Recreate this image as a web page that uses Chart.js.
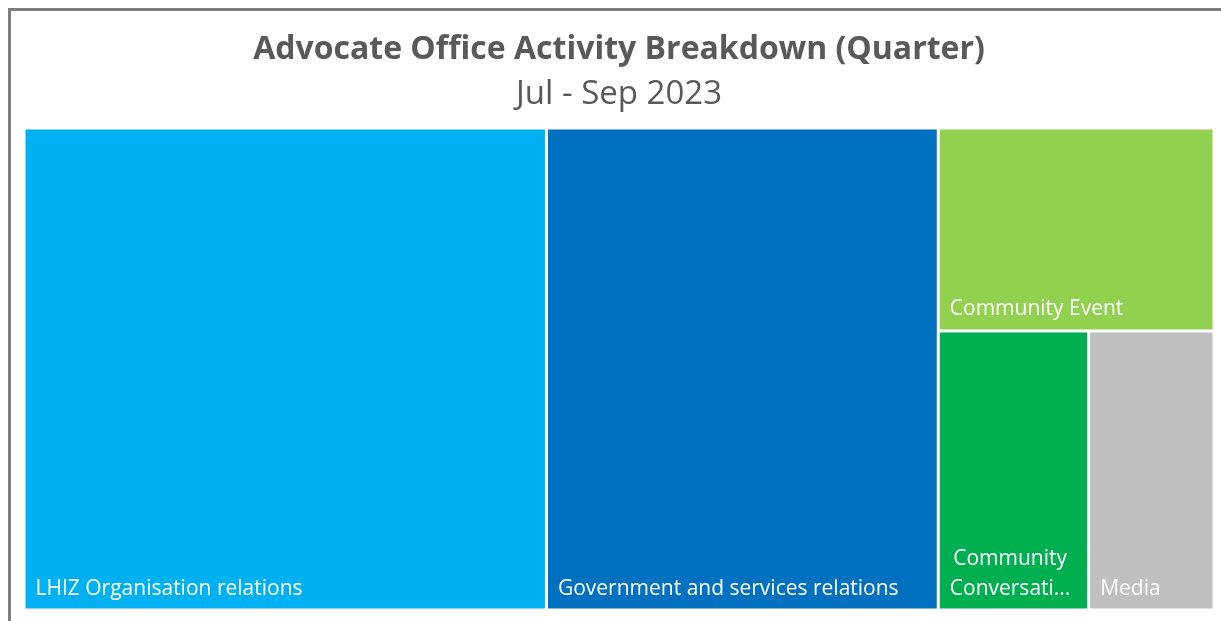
<!DOCTYPE html>
<html>
<head>
<meta charset="utf-8">
<script src="https://cdn.jsdelivr.net/npm/chart.js@4/dist/chart.umd.min.js"></script>
<style>
  html, body { margin: 0; padding: 0; background: #fff; }
  #frame {
    position: absolute; left: 8px; top: 8px;
    width: 1210px; height: 610px;
    border-left: 3px solid #7f7f7f; border-top: 3px solid #7f7f7f;
  }
</style>
</head>
<body>
<div id="frame"><canvas id="chart"></canvas></div>
<script>
// treemap data (Jul - Sep 2023)
const categories = [
  'LHIZ Organisation relations',
  'Government and services relations',
  'Community Event',
  'Community Conversation',
  'Media'
];
const activityCounts = [36, 27, 8, 6, 5];
const palette = ['#00B0F0', '#0070C0', '#92D050', '#00B050', '#BFBFBF'];

// squarified layout in pixel-proportional units, returned as 0..1 values
function worst(row, side) {
  const s = row.reduce((a, b) => a + b, 0);
  const mx = Math.max(...row), mn = Math.min(...row);
  return Math.max(side * side * mx / (s * s), (s * s) / (side * side * mn));
}

function squarify(values, W, H) {
  const total = values.reduce((a, b) => a + b, 0);
  const areas = values.map(v => v * W * H / total);
  const rects = [];
  let x = 0, y = 0, w = W, h = H, i = 0;
  while (i < areas.length) {
    const side = Math.min(w, h);
    let row = [areas[i]], j = i + 1;
    while (j < areas.length) {
      const cand = row.concat(areas[j]);
      if (worst(cand, side) <= worst(row, side) * 1.25) { row = cand; j++; } else break;
    }
    const rowSum = row.reduce((a, b) => a + b, 0);
    if (w > h) {
      const cw = rowSum / h;
      let yy = y;
      row.forEach(a => { const rh = a / cw; rects.push({ x0: x, y0: yy, x1: x + cw, y1: yy + rh }); yy += rh; });
      x += cw; w -= cw;
    } else {
      const rh = rowSum / w;
      let xx = x;
      row.forEach(a => { const rw = a / rh; rects.push({ x0: xx, y0: y, x1: xx + rw, y1: y + rh }); xx += rw; });
      y += rh; h -= rh;
    }
    i = j;
  }
  return rects.map(r => ({ x0: r.x0 / W, y0: r.y0 / H, x1: r.x1 / W, y1: r.y1 / H }));
}

function fitLines(ctx, text, maxW, maxLines) {
  const words = text.split(' ');
  const lines = [];
  let cur = '';
  words.forEach(wd => {
    const test = cur ? cur + ' ' + wd : wd;
    if (ctx.measureText(test).width <= maxW || !cur) cur = test;
    else { lines.push(cur); cur = wd; }
  });
  lines.push(cur);
  let out = lines.slice(0, maxLines);
  if (lines.length > maxLines) out[maxLines - 1] += '…';
  return out.map(l => {
    if (ctx.measureText(l).width <= maxW) return l;
    let s = l.replace(/…$/, '');
    while (s.length > 1 && ctx.measureText(s + '...').width > maxW) s = s.slice(0, -1);
    return s + '...';
  });
}

const treemapPlugin = {
  id: 'treemapCells',
  afterDatasetsDraw(chart) {
    const { ctx, chartArea, scales: { x, y } } = chart;
    const cells = squarify(activityCounts, chartArea.width, chartArea.height);
    const gap = 1.5;
    ctx.save();
    cells.forEach((c, i) => {
      const left = x.getPixelForValue(c.x0) + gap;
      const right = x.getPixelForValue(c.x1) - gap;
      const top = y.getPixelForValue(c.y0) + gap;
      const bottom = y.getPixelForValue(c.y1) - gap;
      ctx.fillStyle = palette[i];
      ctx.fillRect(left, top, right - left, bottom - top);

      ctx.font = '21px "Open Sans"';
      ctx.fillStyle = '#ffffff';
      ctx.textBaseline = 'alphabetic';
      const lines = fitLines(ctx, categories[i], right - left - 20, 2);
      const blockW = Math.max(...lines.map(l => ctx.measureText(l).width));
      const lh = 30;
      lines.forEach((l, k) => {
        const lw = ctx.measureText(l).width;
        ctx.fillText(l, left + 10 + (blockW - lw) / 2, bottom - 14 - (lines.length - 1 - k) * lh);
      });
    });
    ctx.restore();
  }
};

new Chart(document.getElementById('chart'), {
  type: 'scatter',
  data: {
    labels: categories,
    datasets: [{ data: [], pointRadius: 0 }]
  },
  options: {
    responsive: true,
    maintainAspectRatio: false,
    animation: false,
    layout: { padding: { left: 13, right: 7, top: 0, bottom: 11 } },
    plugins: {
      legend: { display: false },
      tooltip: { enabled: false },
      title: {
        display: true,
        text: 'Advocate Office Activity Breakdown (Quarter)',
        color: '#595959',
        font: { family: 'Open Sans', size: 32, weight: 'bold' },
        padding: { top: 20, bottom: 5 }
      },
      subtitle: {
        display: true,
        text: 'Jul - Sep 2023',
        color: '#595959',
        font: { family: 'Open Sans', size: 33, weight: 'normal' },
        padding: { top: 0, bottom: 14 }
      }
    },
    scales: {
      x: { display: false, min: 0, max: 1 },
      y: { display: false, min: 0, max: 1, reverse: true }
    }
  },
  plugins: [treemapPlugin]
});
</script>
</body>
</html>
